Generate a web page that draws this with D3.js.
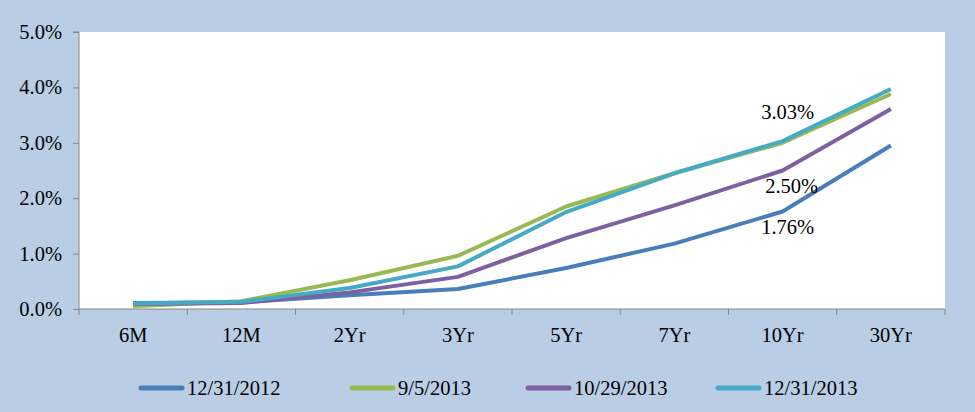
<!DOCTYPE html>
<html><head><meta charset="utf-8">
<script src="https://cdn.jsdelivr.net/npm/d3@7"></script>
<style>
html,body{margin:0;padding:0;background:#B9CDE5;}
svg text{font-family:'Liberation Serif','Times New Roman','DejaVu Serif',serif !important;}
</style></head>
<body><svg id="c" width="975" height="412"></svg>
<script>
const categories = ["6M","12M","2Yr","3Yr","5Yr","7Yr","10Yr","30Yr"];
const seriesNames = ["12/31/2012","9/5/2013","10/29/2013","12/31/2013"];
const s1 = [0.11,0.12,0.25,0.36,0.74,1.18,1.76,2.95];
const s2 = [0.05,0.14,0.52,0.96,1.85,2.45,3.00,3.88];
const s3 = [0.09,0.11,0.30,0.58,1.28,1.87,2.50,3.61];
const s4 = [0.10,0.13,0.38,0.77,1.75,2.45,3.03,3.97];
const yTicks = [0,1,2,3,4,5];
const colors = ["#4A7EBB","#98B954","#7D60A0","#46AAC5"];
const labels = [
  {series:3, cat:"10Yr", text:"3.03%", dx:5, dy:-22},
  {series:2, cat:"10Yr", text:"2.50%", dx:9, dy:22},
  {series:0, cat:"10Yr", text:"1.76%", dx:5, dy:23}
];
const seriesVals = [s1,s2,s3,s4];

const svg = d3.select("#c");
const L=79, R=945, T=32, B=309;
const x = d3.scaleBand().domain(categories).range([L,R]).padding(0);
const y = d3.scaleLinear().domain([0,5]).range([B,T]);
const fs = "20.5px";
const ff = "'Liberation Serif','Times New Roman','DejaVu Serif',serif";

svg.append("rect").attr("x",L).attr("y",T).attr("width",R-L).attr("height",B-T).attr("fill","#fff");

const axisColor="#868686";
// y axis
const ya = svg.append("g").attr("transform",`translate(${L},0)`)
  .call(d3.axisLeft(y).tickValues(yTicks).tickSize(6).tickPadding(11).tickFormat(d=>d.toFixed(1)+"%"));
ya.attr("font-family",ff).attr("font-size",null);
ya.select(".domain").attr("stroke",axisColor).attr("d",`M-6,${T}H0V${B}`);
ya.selectAll(".tick line").attr("stroke",axisColor);
ya.selectAll(".tick text").attr("fill","#000").style("font-size",fs).attr("font-family",ff);

// x axis
const xa = svg.append("g").attr("transform",`translate(0,${B})`);
xa.append("line").attr("x1",L).attr("x2",R).attr("y1",0).attr("y2",0).attr("stroke",axisColor);
const bounds = categories.map(c=>x(c)).concat([x(categories[categories.length-1])+x.bandwidth()]);
xa.selectAll("line.t").data(bounds).enter().append("line").attr("class","t")
  .attr("x1",d=>d).attr("x2",d=>d).attr("y1",0).attr("y2",6).attr("stroke",axisColor);
xa.selectAll("text").data(categories).enter().append("text")
  .attr("x",d=>x(d)+x.bandwidth()/2).attr("y",33).attr("text-anchor","middle")
  .attr("font-family",ff).style("font-size",fs).text(d=>d);

const line = d3.line().x((d,i)=>x(categories[i])+x.bandwidth()/2).y(d=>y(d));
seriesVals.forEach((vals,k)=>{
  svg.append("path").datum(vals).attr("d",line).attr("fill","none")
    .attr("stroke",colors[k]).attr("stroke-width",4).attr("stroke-linejoin","round");
});

labels.forEach(l=>{
  const i = categories.indexOf(l.cat);
  svg.append("text").attr("x",x(l.cat)+x.bandwidth()/2+l.dx).attr("y",y(seriesVals[l.series][i])+l.dy)
    .attr("text-anchor","middle").attr("font-family",ff).style("font-size",fs).text(l.text);
});

// legend
const legX = [141,352,528,718];
const lg = svg.append("g");
seriesNames.forEach((n,k)=>{
  lg.append("line").attr("x1",legX[k]).attr("x2",legX[k]+41).attr("y1",388).attr("y2",388)
    .attr("stroke",colors[k]).attr("stroke-width",5).attr("stroke-linecap","round");
  lg.append("text").attr("x",legX[k]+46).attr("y",395).attr("font-family",ff).style("font-size",fs).text(n);
});
</script></body></html>
